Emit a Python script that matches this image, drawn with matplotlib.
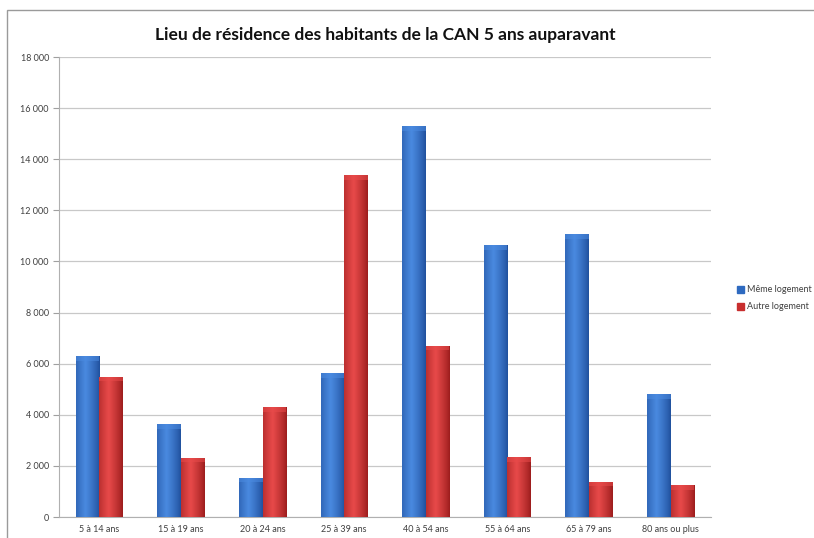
import matplotlib.pyplot as plt
import numpy as np
from matplotlib.patches import Rectangle
from matplotlib.ticker import FuncFormatter

# Age groups and number of residents by place of residence 5 years before
age_groups = ["5 à 14 ans", "15 à 19 ans", "20 à 24 ans", "25 à 39 ans",
              "40 à 54 ans", "55 à 64 ans", "65 à 79 ans", "80 ans ou plus"]
meme_logement = [6300, 3640, 1540, 5630, 15300, 10640, 11070, 4800]
autre_logement = [5490, 2320, 4300, 13380, 6710, 2330, 1380, 1250]

plt.rcParams['font.family'] = ['Lato', 'DejaVu Sans']

fig = plt.figure(figsize=(8.14, 5.38), dpi=100)
ax = fig.add_axes([0.072, 0.039, 0.802, 0.855])

# outer chart frame
fig.patches.append(Rectangle((0.009, -0.01), 1.2, 0.992, transform=fig.transFigure,
                             fill=False, edgecolor="#9a9a9a", linewidth=1.0))


def shaded_bars(x, heights, width, dark, light):
    bars = ax.bar(x, heights, width, color=dark, edgecolor="none", zorder=3)
    # horizontal gradient, lighter towards the left middle like a cylinder
    t = np.linspace(0, 1, 64)
    prof = np.clip(1 - np.abs(t - 0.4) / 0.6, 0, 1) ** 0.8
    dark_c = np.array(plt.matplotlib.colors.to_rgb(dark))
    light_c = np.array(plt.matplotlib.colors.to_rgb(light))
    grad = dark_c[None, :] + (light_c - dark_c)[None, :] * prof[:, None]
    grad = grad[None, :, :]
    for b in bars:
        x0, w, h = b.get_x(), b.get_width(), b.get_height()
        im = ax.imshow(grad, extent=[x0, x0 + w, 0, h], aspect="auto",
                       zorder=3, interpolation="bicubic")
        im.set_clip_path(b)
        # lighter cap on top
        ax.add_patch(Rectangle((x0, h - 180), w, 180, color=light,
                               alpha=0.55, zorder=4, linewidth=0))
    return bars


x = np.arange(len(age_groups))
w = 0.29
b1 = shaded_bars(x - w / 2, meme_logement, w, "#1f4f9c", "#4a8ae0")
b2 = shaded_bars(x + w / 2, autre_logement, w, "#9a1c1c", "#e84a4a")

ax.set_xlim(-0.5, len(age_groups) - 0.5)
ax.set_ylim(0, 18000)
ax.set_yticks(np.arange(0, 18001, 2000))
ax.yaxis.set_major_formatter(FuncFormatter(lambda v, p: f"{int(v):,}".replace(",", " ")))
ax.set_xticks(x)
ax.set_xticklabels(age_groups)
ax.tick_params(axis="both", labelsize=6.5, colors="#404040")
ax.tick_params(axis="x", length=0, pad=6)
ax.tick_params(axis="y", length=4, color="#a0a0a0", pad=3)
ax.grid(axis="y", color="#c8c8c8", linewidth=0.9, zorder=0)
ax.set_axisbelow(True)
for side in ["top", "right"]:
    ax.spines[side].set_visible(False)
ax.spines["left"].set_color("#b0b0b0")
ax.spines["bottom"].set_color("#b0b0b0")

ax.set_title("Lieu de résidence des habitants de la CAN 5 ans auparavant",
             fontsize=12.5, fontweight="bold", pad=12, color="#111111")

leg_handles = [Rectangle((0, 0), 1, 1, color="#2e6ac0"), Rectangle((0, 0), 1, 1, color="#c82e2e")]
fig.legend(leg_handles, ["Même logement", "Autre logement"], loc="upper left",
           bbox_to_anchor=(0.895, 0.485), frameon=False, fontsize=6.5,
           handlelength=0.8, handleheight=0.8, handletextpad=0.3, labelspacing=0.9,
           labelcolor="#404040")

plt.savefig("out.png", dpi=100)
plt.close()
